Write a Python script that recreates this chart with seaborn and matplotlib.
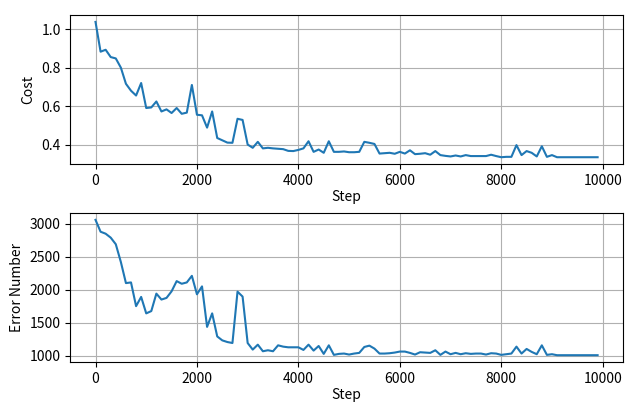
import numpy as np
import pandas as pd
import matplotlib
matplotlib.use("Agg")
import matplotlib.pyplot as plt
from matplotlib.ticker import MultipleLocator
import seaborn as sns

steps = list(range(0, 10000, 100))

cost = [1.038, 0.883, 0.893, 0.855, 0.848, 0.80, 0.716, 0.68, 0.655, 0.72,
        0.59, 0.593, 0.624, 0.572, 0.583, 0.564, 0.59, 0.56, 0.566, 0.71,
        0.555, 0.552, 0.488, 0.572, 0.434, 0.422, 0.41, 0.409, 0.534, 0.528,
        0.40, 0.383, 0.414, 0.38, 0.383, 0.38, 0.378, 0.376, 0.367, 0.366,
        0.372, 0.38, 0.417, 0.362, 0.374, 0.357, 0.417, 0.362, 0.362, 0.364,
        0.36, 0.36, 0.362, 0.414, 0.409, 0.403, 0.353, 0.355, 0.357, 0.352,
        0.362, 0.353, 0.37, 0.35, 0.352, 0.355, 0.347, 0.366, 0.345, 0.341,
        0.338, 0.343, 0.338, 0.345, 0.34, 0.34, 0.34, 0.34, 0.347, 0.34,
        0.334, 0.336, 0.336, 0.397, 0.345, 0.366, 0.357, 0.338, 0.391, 0.336,
        0.345, 0.334, 0.334, 0.334, 0.334, 0.334, 0.334, 0.334, 0.334, 0.334]

errors = [3060, 2880, 2850, 2790, 2690, 2420, 2100, 2110, 1750, 1890,
          1640, 1675, 1940, 1850, 1875, 1975, 2130, 2090, 2110, 2210,
          1930, 2050, 1435, 1640, 1290, 1230, 1205, 1190, 1970, 1895,
          1190, 1090, 1165, 1065, 1080, 1065, 1155, 1135, 1125, 1125,
          1125, 1085, 1165, 1075, 1145, 1025, 1155, 1010, 1025, 1030,
          1015, 1030, 1040, 1130, 1150, 1105, 1030, 1030, 1035, 1045,
          1060, 1060, 1040, 1015, 1050, 1045, 1040, 1080, 1010, 1060,
          1020, 1040, 1020, 1035, 1025, 1030, 1030, 1015, 1035, 1030,
          1010, 1020, 1030, 1135, 1030, 1100, 1055, 1020, 1155, 1010,
          1020, 1005, 1005, 1005, 1005, 1005, 1005, 1005, 1005, 1005]

df = pd.DataFrame({"Step": steps, "Cost": cost, "Error Number": errors})

plt.rcParams['font.family'] = ['Noto Sans CJK SC', 'DejaVu Sans']

fig, axes = plt.subplots(2, 1, figsize=(6.4, 4.09), dpi=100)
for ax, col in zip(axes, ["Cost", "Error Number"]):
    sns.lineplot(data=df, x="Step", y=col, ax=ax, color="#1f77b4", linewidth=1.5)
    ax.grid(True, color="#b0b0b0", linewidth=0.8)
    ax.set_xlabel("Step", labelpad=2)
    ax.set_ylabel(col)
axes[0].yaxis.set_major_locator(MultipleLocator(0.2))
axes[1].yaxis.set_major_locator(MultipleLocator(500))

fig.subplots_adjust(left=0.110, right=0.973, top=0.963, bottom=0.115, hspace=0.33)
fig.savefig("out.png", dpi=100)
